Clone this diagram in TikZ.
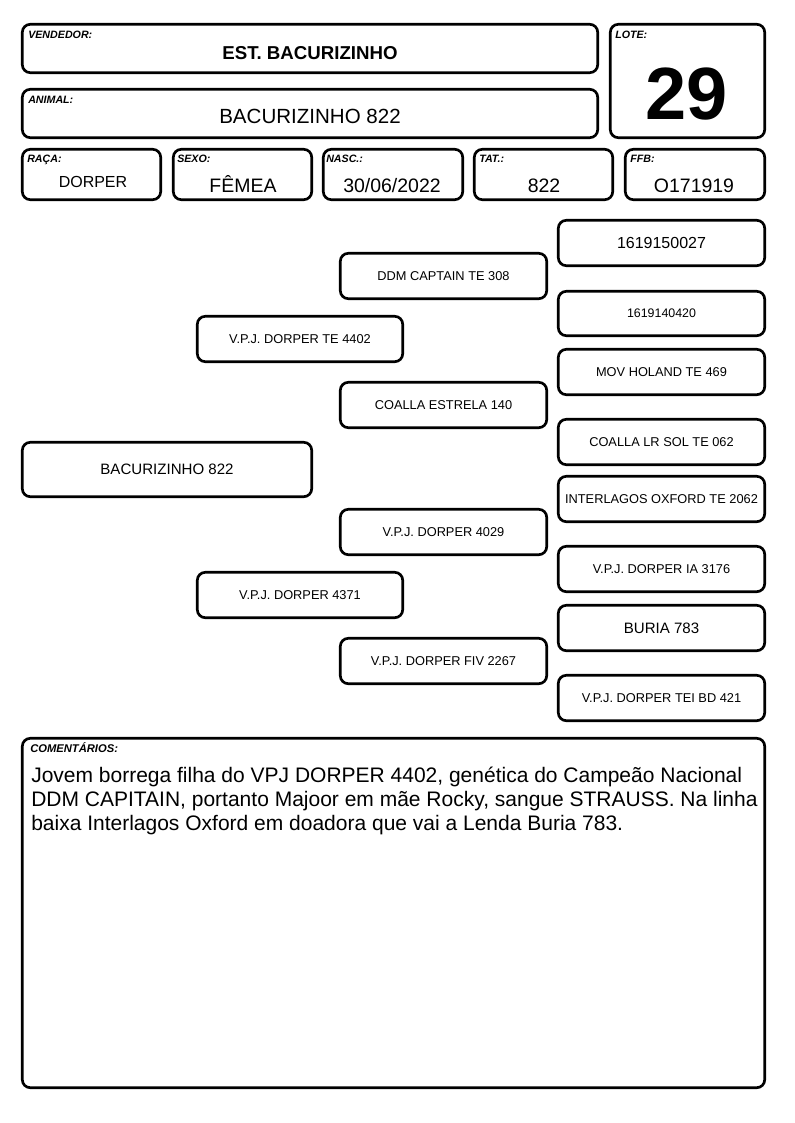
\documentclass[tikz,border=0pt]{standalone}
\usepackage{fontspec}
\setmainfont{Liberation Sans}
\newcommand\fsz[1]{\fontsize{#1}{#1}\selectfont}
\tikzset{
  frame/.style={draw, line width=2pt, rounded corners=6pt, inner sep=0pt},
  lbl/.style={anchor=base west, inner sep=0pt, font=\fsz{8}\bfseries\itshape},
  val/.style={anchor=base, inner sep=0pt},
  ped/.style={frame, text height=6.9pt, text depth=0pt, font=\fsz{9.6}},
}
% name, x1, y1, x2, y2 (pixels), options, text
\newcommand\pbox[7]{\node[#6, minimum width={(#4-#2-2.6)*0.75pt}, minimum height={(#5-#3-2.6)*0.75pt}] (#1) at ({(#2+#4)/2},{(#3+#5)/2}) {#7};}
\begin{document}
\begin{tikzpicture}[x=0.75pt,y=-0.75pt]
\useasboundingbox[fill=white] (0,0) rectangle (794,1123);
% header
\pbox{vend}{21}{23}{599}{74}{frame}{}
\node[lbl] (vendl) at (28,39) {VENDEDOR:};
\node[val, font=\fsz{14}\bfseries] (vendv) at (310,59.7) {EST. BACURIZINHO};
\pbox{anim}{21}{88}{599}{139}{frame}{}
\node[lbl] (animl) at (28,104) {ANIMAL:};
\node[val, font=\fsz{15.4}] (animv) at (310,123.3) {BACURIZINHO 822};
\pbox{lote}{609}{23}{766}{139}{frame}{}
\node[lbl] (lotel) at (615,39) {LOTE:};
\node[val, font=\fsz{55.5}\bfseries] (lotev) at (687,119.5) {29};
\pbox{raca}{21}{148}{162}{201}{frame}{}
\node[lbl] (racal) at (27,163) {RAÇA:};
\node[val, font=\fsz{12}] (racav) at (93,187.7) {DORPER};
\pbox{sexo}{172}{148}{313}{201}{frame}{}
\node[lbl] (sexol) at (177,163) {SEXO:};
\node[val, font=\fsz{14.6}] (sexov) at (243,193) {FÊMEA};
\pbox{nasc}{322}{148}{464}{201}{frame}{}
\node[lbl] (nascl) at (326,163) {NASC.:};
\node[val, font=\fsz{14.6}] (nascv) at (392,193) {30/06/2022};
\pbox{tat}{473}{148}{614}{201}{frame}{}
\node[lbl] (tatl) at (479,163) {TAT.:};
\node[val, font=\fsz{14.6}] (tatv) at (544,193) {822};
\pbox{ffb}{624}{148}{766}{201}{frame}{}
\node[lbl] (ffbl) at (630,163) {FFB:};
\node[val, font=\fsz{14.6}] (ffbv) at (694,193) {O171919};
% pedigree
\pbox{p0}{21}{441}{313}{498}{ped, font=\fsz{11.3}, text height=8.1pt}{BACURIZINHO 822}
\pbox{p1}{196}{315}{404}{363}{ped}{V.P.J. DORPER TE 4402}
\pbox{p2}{196}{571}{404}{619}{ped}{V.P.J. DORPER 4371}
\pbox{p3}{339}{252}{548}{300}{ped}{DDM CAPTAIN TE 308}
\pbox{p4}{339}{381}{548}{429}{ped}{COALLA ESTRELA 140}
\pbox{p5}{339}{508}{548}{556}{ped}{V.P.J. DORPER 4029}
\pbox{p6}{339}{637}{548}{685}{ped}{V.P.J. DORPER FIV 2267}
\pbox{p7}{557}{219}{766}{267}{ped, font=\fsz{12}, text height=8.6pt}{1619150027}
\pbox{p8}{557}{290}{766}{337}{ped, font=\fsz{9.3}, text height=6.7pt}{1619140420}
\pbox{p9}{557}{348}{766}{396}{ped}{MOV HOLAND TE 469}
\pbox{p10}{557}{418}{766}{466}{ped}{COALLA LR SOL TE 062}
\pbox{p11}{557}{475}{766}{523}{ped}{INTERLAGOS OXFORD TE 2062}
\pbox{p12}{557}{545}{766}{593}{ped}{V.P.J. DORPER IA 3176}
\pbox{p13}{557}{604}{766}{652}{ped, font=\fsz{11.3}, text height=8.1pt}{BURIA 783}
\pbox{p14}{557}{674}{766}{722}{ped}{V.P.J. DORPER TEI BD 421}
% comments
\pbox{com}{21}{737}{766}{1089}{frame}{}
\node[lbl, font=\fsz{8.4}\bfseries\itshape] (coml) at (30,752) {COMENTÁRIOS:};
\node[anchor=base west, inner sep=0pt, font=\fsz{15.75}] (c1) at (31,782.5) {Jovem borrega filha do VPJ DORPER 4402, genética do Campeão Nacional};
\node[anchor=base west, inner sep=0pt, font=\fsz{15.75}] (c2) at (31,806.5) {DDM CAPITAIN, portanto Majoor em mãe Rocky, sangue STRAUSS. Na linha};
\node[anchor=base west, inner sep=0pt, font=\fsz{15.75}] (c3) at (31,830.5) {baixa Interlagos Oxford em doadora que vai a Lenda Buria 783.};
\end{tikzpicture}
\end{document}
